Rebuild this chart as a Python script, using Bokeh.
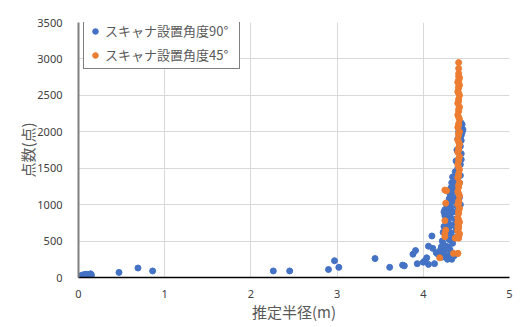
from bokeh.plotting import figure
from bokeh.models import Legend, LegendItem, FixedTicker
from bokeh.embed import file_html
from bokeh.resources import INLINE

# ---- data ----
blue_x = [0.02, 0.03, 0.05, 0.07, 0.09, 0.12, 0.14, 0.15, 0.47, 0.69, 0.86,
          2.26, 2.45, 2.90, 2.97, 3.02, 3.44, 3.61, 3.76, 3.78, 3.88, 3.91, 3.93,
          4.00, 4.02, 4.04, 4.06, 4.06, 4.10, 4.11, 4.13, 4.15, 4.17,
          4.19, 4.20, 4.21, 4.22, 4.22, 4.23, 4.23, 4.24, 4.24, 4.25, 4.25, 4.26,
          4.26, 4.27, 4.27, 4.28, 4.28, 4.28, 4.29, 4.29, 4.30, 4.30, 4.30, 4.31,
          4.31, 4.31, 4.32, 4.32, 4.32, 4.33, 4.33, 4.33, 4.34, 4.34, 4.34, 4.35,
          4.35, 4.35, 4.36, 4.36, 4.36, 4.37, 4.37, 4.38, 4.38, 4.38, 4.39, 4.39,
          4.40, 4.40, 4.41, 4.42, 4.43, 4.44, 4.45, 4.46, 4.44, 4.43, 4.42, 4.41,
          4.28, 4.30, 4.32, 4.34, 4.26, 4.24, 4.22, 4.27, 4.29, 4.31, 4.33, 4.35, 4.37,
          4.43, 4.44, 4.43, 4.44, 4.45, 4.43, 4.44, 4.42, 4.43]
blue_y = [15, 25, 35, 40, 45, 40, 50, 35, 70, 130, 90,
          90, 90, 110, 230, 140, 260, 140, 170, 160, 320, 370, 190,
          210, 230, 270, 180, 430, 570, 400, 190, 340, 320,
          300, 380, 420, 350, 500, 460, 620, 700, 900, 930, 850, 780,
          560, 640, 1000, 940, 880, 300, 420, 750, 1080, 690, 520, 1150,
          820, 380, 1230, 960, 610, 1300, 1040, 250, 1380, 720, 470, 1200,
          900, 550, 1320, 1100, 300, 1450, 800, 1600, 1250, 650, 1750, 980,
          1900, 1500, 2000, 1850, 2050, 1950, 2100, 2030, 1700, 1400, 1100, 560,
          250, 260, 280, 330, 430, 350, 280, 900, 960, 860, 1170, 1250, 1050,
          1550, 1620, 1800, 1880, 1990, 2060, 2120, 1300, 1000]

orange_x = [4.40, 4.41, 4.42, 4.40, 4.41, 4.42, 4.40, 4.41, 4.42, 4.40,
            4.41, 4.42, 4.40, 4.41, 4.42, 4.40, 4.41, 4.42, 4.40, 4.41,
            4.42, 4.40, 4.41, 4.42, 4.40, 4.41, 4.42, 4.40, 4.41, 4.42,
            4.40, 4.41, 4.42, 4.40, 4.41, 4.42, 4.40, 4.41, 4.42, 4.40,
            4.41, 4.42, 4.41, 4.41, 4.41, 4.41,
            4.41, 4.41, 4.41, 4.41, 4.41, 4.41, 4.41, 4.41, 4.41, 4.41,
            4.41, 4.41, 4.41, 4.41, 4.41, 4.41, 4.41, 4.41, 4.41, 4.41,
            4.19, 4.25, 4.26, 4.25, 4.26, 4.25, 4.27, 4.25, 4.35, 4.40,
            4.37, 4.39, 4.40, 4.40, 4.40]
orange_y = [330, 540, 600, 650, 700, 760, 820, 880, 950, 1000,
            1050, 1120, 1180, 1240, 1300, 1370, 1420, 1480, 1550, 1600,
            1660, 1720, 1780, 1830, 1890, 1950, 2000, 2060, 2110, 2170,
            2230, 2280, 2340, 2390, 2450, 2500, 2550, 2600, 2640, 2680,
            2710, 2740, 2760, 2800, 2870, 2950,
            580, 680, 790, 910, 1020, 1150, 1270, 1390, 1510, 1630,
            1750, 1860, 1980, 2090, 2200, 2310, 2420, 2530, 2620, 2700,
            270, 600, 650, 780, 1020, 1200, 1190, 560, 330, 330,
            540, 550, 640, 700, 760]

x_ticks = [0, 1, 2, 3, 4, 5]
y_ticks = [0, 500, 1000, 1500, 2000, 2500, 3000, 3500]
series_names = ["スキャナ設置角度90°", "スキャナ設置角度45°"]
x_title = "推定半径(m)"
y_title = "点数(点)"

BLUE = "#4472C4"
ORANGE = "#ED7D31"
GRID = "#D9D9D9"
TXT = "#595959"
JP = "Noto Sans CJK JP"

p = figure(frame_width=431, frame_height=255, output_backend="svg",
           toolbar_location=None,
           x_range=(0, 5), y_range=(0, 3500),
           min_border_left=78, min_border_right=6, min_border_top=22,
           min_border_bottom=20)
p.outline_line_color = None
p.background_fill_color = "white"
p.border_fill_color = "white"

r1 = p.scatter(blue_x, blue_y, size=6, color=BLUE, line_color=BLUE)
r2 = p.scatter(orange_x, orange_y, size=6, color=ORANGE, line_color=ORANGE)

p.xaxis.ticker = FixedTicker(ticks=x_ticks)
p.yaxis.ticker = FixedTicker(ticks=y_ticks)
for ax in (p.xaxis, p.yaxis):
    ax.major_tick_line_color = None
    ax.minor_tick_line_color = None
    ax.major_label_text_color = "#404040"
    ax.major_label_text_font = "Noto Sans"
    ax.major_label_text_font_size = "11px"
    ax.axis_label_text_font = JP
    ax.axis_label_text_font_size = "15px"
    ax.axis_label_text_font_style = "normal"
    ax.axis_label_text_color = TXT
p.xaxis.axis_line_color = "black"
p.xaxis.axis_line_width = 1.5
p.yaxis.axis_line_color = "#7F7F7F"
p.yaxis.axis_line_width = 2
p.xaxis.axis_label = x_title
p.yaxis.axis_label = y_title
p.xaxis.major_label_standoff = 6
p.yaxis.major_label_standoff = 10
p.xaxis.axis_label_standoff = 0
p.yaxis.axis_label_standoff = -4

p.xgrid.grid_line_color = GRID
p.ygrid.grid_line_color = GRID

legend = Legend(items=[LegendItem(label=series_names[0], renderers=[r1]),
                       LegendItem(label=series_names[1], renderers=[r2])],
                location=(5, 208))
legend.border_line_color = "black"
legend.border_line_width = 1
legend.margin = 0
legend.padding = 4
legend.spacing = 5
legend.glyph_width = 14
legend.glyph_height = 16
legend.label_height = 16
legend.label_width = 130
legend.label_standoff = 3
legend.label_text_font = JP
legend.label_text_font_size = "13px"
legend.label_text_color = TXT
legend.background_fill_alpha = 1
p.add_layout(legend)

open("out.html", "w").write(file_html(p, INLINE))
